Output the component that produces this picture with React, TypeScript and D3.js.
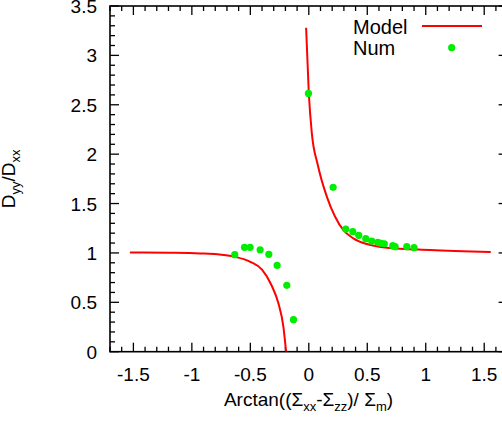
import React from "react";
import * as d3 from "d3";

const modelLeftX = [-1.53, -1.2, -0.93, -0.75, -0.63, -0.5, -0.4, -0.32, -0.26, -0.217, -0.194];
const modelLeftY = [1.005, 1.002, 0.995, 0.982, 0.96, 0.91, 0.83, 0.675, 0.49, 0.25, 0.0];
const modelRightX = [-0.023, 0.0, 0.026, 0.075, 0.154, 0.225, 0.296, 0.381, 0.496, 0.667, 1.037, 1.556];
const modelRightY = [3.28, 2.62, 2.21, 1.9, 1.57, 1.366, 1.23, 1.148, 1.09, 1.053, 1.03, 1.01];

const numX = [-0.633, -0.55, -0.502, -0.416, -0.342, -0.271, -0.188, -0.131,
  -0.003, 0.208, 0.316, 0.376, 0.427, 0.487, 0.538, 0.59, 0.618, 0.646, 0.718, 0.738, 0.838, 0.9];
const numY = [0.982, 1.057, 1.057, 1.032, 0.986, 0.874, 0.672, 0.324,
  2.615, 1.664, 1.242, 1.215, 1.178, 1.144, 1.12, 1.107, 1.097, 1.093, 1.073, 1.063, 1.063, 1.053];

const xTicks = [-1.5, -1, -0.5, 0, 0.5, 1, 1.5];
const xTickLabels = ["-1.5", "-1", "-0.5", "0", "0.5", "1", "1.5"];
const yTicks = [0, 0.5, 1, 1.5, 2, 2.5, 3, 3.5];
const yTickLabels = ["0", "0.5", "1", "1.5", "2", "2.5", "3", "3.5"];

const W = 502, H = 423;
const L = 110, R = 507.6, T = 6, B = 351.7;
const FONT = "'Liberation Sans', Arial, sans-serif";
const FS = 19;

export default function App() {
  const x = d3.scaleLinear().domain([-1.7, 1.7]).range([L, R]);
  const y = d3.scaleLinear().domain([0, 3.5]).range([B, T]);
  const line = d3.line<[number, number]>().x(d => x(d[0])).y(d => y(d[1])).curve(d3.curveMonotoneX);
  const left = modelLeftX.map((v, i) => [v, modelLeftY[i]] as [number, number]);
  const right = modelRightX.map((v, i) => [v, modelRightY[i]] as [number, number]);

  const xMinor = d3.range(-17, 18).map(i => i / 10);
  const yMinor = d3.range(0, 36).map(i => i / 10);
  const isMajor = (v: number) => Math.abs(v * 2 - Math.round(v * 2)) < 1e-6;

  const ticks: JSX.Element[] = [];
  xMinor.forEach((v, i) => {
    const len = isMajor(v) ? 9 : 5;
    const px = x(v);
    ticks.push(<line key={"xb" + i} x1={px} x2={px} y1={B} y2={B - len} stroke="#000" strokeWidth={1.3} />);
    ticks.push(<line key={"xt" + i} x1={px} x2={px} y1={T} y2={T + len} stroke="#000" strokeWidth={1.3} />);
  });
  yMinor.forEach((v, i) => {
    const len = isMajor(v) ? 9 : 5;
    const py = y(v);
    ticks.push(<line key={"yl" + i} x1={L} x2={L + len} y1={py} y2={py} stroke="#000" strokeWidth={1.3} />);
    ticks.push(<line key={"yr" + i} x1={R} x2={R - len} y1={py} y2={py} stroke="#000" strokeWidth={1.3} />);
  });

  return (
    <svg width={W} height={H} style={{ position: "absolute", left: 0, top: 0, background: "#fff" }}
      fontFamily={FONT}>
      <rect x={0} y={0} width={W} height={H} fill="#fff" />
      <defs>
        <clipPath id="plotclip">
          <rect x={L} y={T} width={R - L} height={B - T} />
        </clipPath>
      </defs>
      {ticks}
      <rect x={L} y={T} width={R - L} height={B - T} fill="none" stroke="#000" strokeWidth={1.6} />
      {xTicks.map((v, i) => (
        <text key={"xl" + i} x={x(v)} y={381} fontSize={FS} textAnchor="middle">{xTickLabels[i]}</text>
      ))}
      {yTicks.map((v, i) => (
        <text key={"yl" + i} x={97} y={y(v) + 7} fontSize={FS} textAnchor="end">{yTickLabels[i]}</text>
      ))}
      <g clipPath="url(#plotclip)">
        <path d={line(left) || ""} fill="none" stroke="#ff0000" strokeWidth={2} />
        <path d={line(right) || ""} fill="none" stroke="#ff0000" strokeWidth={2} />
        {numX.map((v, i) => (
          <circle key={"p" + i} cx={x(v)} cy={y(numY[i])} r={3.6} fill="#00ee00" />
        ))}
      </g>
      {/* legend */}
      <text x={353} y={34} fontSize={FS + 1}>Model</text>
      <line x1={422} x2={482} y1={26} y2={26} stroke="#ff0000" strokeWidth={2} />
      <text x={353} y={55} fontSize={FS + 1}>Num</text>
      <circle cx={451.7} cy={47.7} r={3.6} fill="#00ee00" />
      {/* axis titles */}
      <text x={308.5} y={406} fontSize={FS} textAnchor="middle">
        Arctan((Σ<tspan fontSize={13} dy={5}>xx</tspan><tspan dy={-5}>-Σ</tspan><tspan fontSize={13} dy={5}>zz</tspan><tspan dy={-5}>)/ Σ</tspan><tspan fontSize={13} dy={5}>m</tspan><tspan dy={-5}>)</tspan>
      </text>
      <text transform={`translate(15,${(T + B) / 2}) rotate(-90)`} fontSize={FS} textAnchor="middle">
        D<tspan fontSize={13} dy={5}>yy</tspan><tspan dy={-5}>/D</tspan><tspan fontSize={13} dy={5}>xx</tspan>
      </text>
    </svg>
  );
}
